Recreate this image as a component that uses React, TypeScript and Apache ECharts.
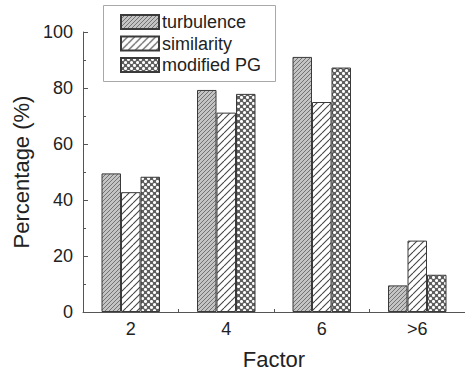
import React, { useEffect, useRef } from "react";
import * as echarts from "echarts";

const categories = ["2", "4", "6", ">6"];
const seriesNames = ["turbulence", "similarity", "modified PG"];
const turbulence = [49.5, 79.3, 91.1, 9.5];
const similarity = [42.8, 71.2, 75.0, 25.5];
const modifiedPG = [48.3, 77.9, 87.3, 13.3];
const yTicks = { min: 0, max: 100, interval: 20 };

function makePattern(kind: string) {
  const c = document.createElement("canvas");
  let w = 4, h = 4;
  if (kind === "turb") { w = 4; h = 4; }
  if (kind === "sim") { w = 7; h = 7; }
  if (kind === "mod") { w = 6; h = 6; }
  c.width = w; c.height = h;
  const ctx = c.getContext("2d")!;
  if (kind === "turb") {
    ctx.fillStyle = "#c4c4c4";
    ctx.fillRect(0, 0, w, h);
    ctx.strokeStyle = "#6a6a6a";
    ctx.lineWidth = 0.9;
    for (let k = -1; k <= 1; k++) {
      ctx.beginPath();
      ctx.moveTo(k * w, h);
      ctx.lineTo(k * w + w, 0);
      ctx.stroke();
    }
  } else if (kind === "sim") {
    ctx.fillStyle = "#ffffff";
    ctx.fillRect(0, 0, w, h);
    ctx.strokeStyle = "#444444";
    ctx.lineWidth = 1.1;
    for (let k = -1; k <= 1; k++) {
      ctx.beginPath();
      ctx.moveTo(k * w, h);
      ctx.lineTo(k * w + w, 0);
      ctx.stroke();
    }
  } else {
    ctx.fillStyle = "#5e5e5e";
    ctx.fillRect(0, 0, w, h);
    ctx.fillStyle = "#ffffff";
    const pts = [[1.5, 1.5], [4.5, 4.5]];
    for (const [x, y] of pts) {
      ctx.beginPath();
      ctx.arc(x, y, 1.55, 0, Math.PI * 2);
      ctx.fill();
    }
  }
  return { image: c.toDataURL(), imageWidth: w, imageHeight: h, repeat: "repeat" } as any;
}

export default function App() {
  const ref = useRef<HTMLDivElement>(null);
  useEffect(() => {
    if (!ref.current) return;
    const chart = echarts.init(ref.current, null, { renderer: "svg" });
    const patterns = [makePattern("turb"), makePattern("sim"), makePattern("mod")];
    const dataSets = [turbulence, similarity, modifiedPG];
    const font = "Liberation Sans, Arial, sans-serif";
    chart.setOption({
      animation: false,
      backgroundColor: "#ffffff",
      grid: { left: 83, right: 0, top: 32, bottom: 58 },
      graphic: [
        {
          type: "rect",
          shape: { x: 103.5, y: 5.5, width: 172, height: 76 },
          style: { fill: "#fff", stroke: "#a8a8a8", lineWidth: 1 },
          z: 5,
        },
      ],
      legend: {
        orient: "vertical",
        left: 120,
        top: 13,
        padding: 0,
        itemWidth: 38,
        itemHeight: 14,
        itemGap: 3.5,
        icon: "rect",
        z: 10,
        textStyle: { fontFamily: font, fontSize: 18, color: "#222", padding: [0, 0, 0, -2] },
        data: seriesNames,
      },
      xAxis: {
        type: "category",
        data: categories,
        name: "Factor",
        nameLocation: "middle",
        nameGap: 36,
        nameTextStyle: { fontFamily: font, fontSize: 22, color: "#222" },
        axisLine: { lineStyle: { color: "#555", width: 1 } },
        axisTick: { show: true, inside: true, length: 3, lineStyle: { color: "#555" } },
        axisLabel: { fontFamily: font, fontSize: 18, color: "#222", margin: 8 },
      },
      yAxis: {
        type: "value",
        min: yTicks.min,
        max: yTicks.max,
        interval: yTicks.interval,
        name: "Percentage (%)",
        nameLocation: "middle",
        nameGap: 48,
        nameTextStyle: { fontFamily: font, fontSize: 22, color: "#222" },
        axisLine: { show: true, lineStyle: { color: "#555", width: 1 } },
        axisTick: { show: true, inside: true, length: 5, lineStyle: { color: "#555" } },
        minorTick: { show: true, splitNumber: 2, length: 3, lineStyle: { color: "#555" } },
        splitLine: { show: false },
        axisLabel: { fontFamily: font, fontSize: 18, color: "#222", margin: 10 },
      },
      series: seriesNames.map((name, i) => ({
        name,
        type: "bar",
        data: dataSets[i],
        barWidth: 19.5,
        barGap: "0%",
        itemStyle: { color: patterns[i], borderColor: "#3a3a3a", borderWidth: 1 },
      })),
    });
    return () => chart.dispose();
  }, []);
  return <div ref={ref} style={{ width: 465, height: 375, position: "absolute", left: 0, top: 0 }} />;
}
